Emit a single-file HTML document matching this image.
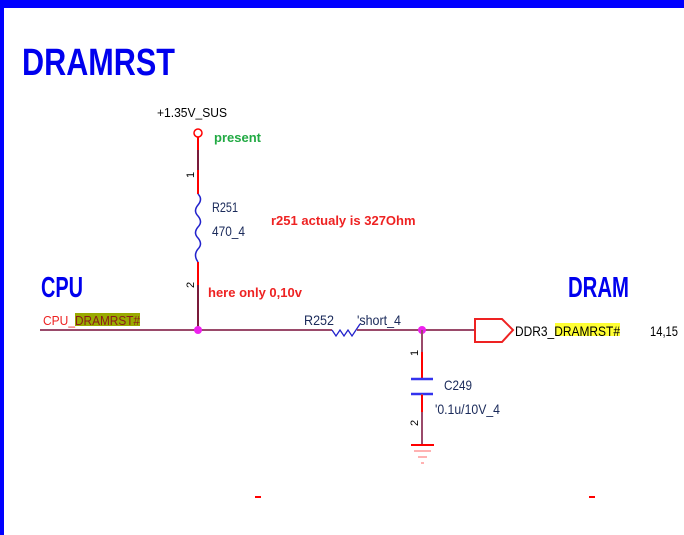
<!DOCTYPE html>
<html><head><style>
html,body{margin:0;padding:0;background:#fff}
svg{display:block}
text{font-family:"Liberation Sans",sans-serif}
</style></head><body>
<svg width="684" height="535" viewBox="0 0 684 535" xmlns="http://www.w3.org/2000/svg">
<rect x="0" y="0" width="684" height="535" fill="#fff"/>
<rect x="0" y="0" width="684" height="8" fill="#0000ff"/>
<rect x="0" y="0" width="4" height="535" fill="#0000ff"/>
<text x="22" y="75" font-size="38" font-weight="bold" fill="#0000ee" textLength="153" lengthAdjust="spacingAndGlyphs">DRAMRST</text>
<text x="157" y="117" font-size="13" fill="#000" textLength="70" lengthAdjust="spacingAndGlyphs">+1.35V_SUS</text>
<circle cx="198" cy="133" r="4" fill="none" stroke="#f00" stroke-width="1.5"/>
<line x1="198" y1="137" x2="198" y2="330" stroke="#7a1a3a" stroke-width="2"/>
<line x1="198" y1="137" x2="198" y2="150" stroke="#f00" stroke-width="2"/>
<line x1="198" y1="170" x2="198" y2="194" stroke="#f00" stroke-width="2"/>
<line x1="198" y1="262" x2="198" y2="285" stroke="#f00" stroke-width="2"/>
<rect x="194" y="194" width="8" height="68" fill="#fff"/>
<path d="M198 194 q5 5 0 11 q-5 6 0 11 q5 6 0 11 q-5 6 0 11 q5 6 0 11 q-5 6 0 13" fill="none" stroke="#2222cc" stroke-width="1.5"/>
<text x="194" y="178" font-size="11" fill="#000" transform="rotate(-90 194 178)">1</text>
<text x="194" y="288" font-size="11" fill="#000" transform="rotate(-90 194 288)">2</text>
<text x="214" y="142" font-size="13" font-weight="bold" fill="#22aa44">present</text>
<text x="212" y="212" font-size="14" fill="#1a2a5a" textLength="26" lengthAdjust="spacingAndGlyphs">R251</text>
<text x="212" y="236" font-size="14" fill="#1a2a5a" textLength="33" lengthAdjust="spacingAndGlyphs">470_4</text>
<text x="271" y="225" font-size="13" font-weight="bold" fill="#ee2222">r251 actualy is 327Ohm</text>
<text x="208" y="297" font-size="13" font-weight="bold" fill="#ee2222">here only 0,10v</text>
<text x="41" y="297" font-size="29" font-weight="bold" fill="#0000ee" textLength="42" lengthAdjust="spacingAndGlyphs">CPU</text>
<text x="568" y="297" font-size="29" font-weight="bold" fill="#0000ee" textLength="61" lengthAdjust="spacingAndGlyphs">DRAM</text>
<rect x="75" y="313" width="65" height="13" fill="#99aa00"/>
<text x="43" y="325" font-size="13" fill="#ee2222" textLength="32" lengthAdjust="spacingAndGlyphs">CPU_</text>
<text x="75" y="325" font-size="13" fill="#8b1a1a" textLength="65" lengthAdjust="spacingAndGlyphs">DRAMRST#</text>
<line x1="40" y1="330" x2="332" y2="330" stroke="#9a4a6a" stroke-width="2"/>
<path d="M332 330 l4 6 l4 -6 l4 6 l4 -6 l4 6 l4 -6 l4 -6" fill="none" stroke="#2222cc" stroke-width="1.3"/>
<line x1="357" y1="330" x2="475" y2="330" stroke="#9a4a6a" stroke-width="2"/>
<text x="304" y="325" font-size="14" fill="#1a2a5a" textLength="30" lengthAdjust="spacingAndGlyphs">R252</text>
<text x="357" y="325" font-size="14" fill="#1a2a5a" textLength="44" lengthAdjust="spacingAndGlyphs">'short_4</text>
<circle cx="198" cy="330" r="4" fill="#ee22ee"/>
<circle cx="422" cy="330" r="4" fill="#ee22ee"/>
<line x1="422" y1="330" x2="422" y2="380" stroke="#9a4a6a" stroke-width="2"/>
<line x1="422" y1="352" x2="422" y2="378" stroke="#f00" stroke-width="2"/>
<line x1="411" y1="379" x2="433" y2="379" stroke="#3333ee" stroke-width="2.5"/>
<line x1="411" y1="394" x2="433" y2="394" stroke="#3333ee" stroke-width="2.5"/>
<line x1="422" y1="394" x2="422" y2="445" stroke="#9a4a6a" stroke-width="2"/>
<line x1="422" y1="395" x2="422" y2="412" stroke="#f00" stroke-width="2"/>
<line x1="411" y1="445" x2="434" y2="445" stroke="#f00" stroke-width="2"/>
<line x1="414" y1="451" x2="431" y2="451" stroke="#ff6666" stroke-width="1"/>
<line x1="418" y1="457" x2="427" y2="457" stroke="#ff6666" stroke-width="1"/>
<line x1="421" y1="463" x2="424" y2="463" stroke="#ff6666" stroke-width="1"/>
<text x="418" y="356" font-size="11" fill="#000" transform="rotate(-90 418 356)">1</text>
<text x="418" y="426" font-size="11" fill="#000" transform="rotate(-90 418 426)">2</text>
<text x="444" y="390" font-size="14" fill="#1a2a5a" textLength="28" lengthAdjust="spacingAndGlyphs">C249</text>
<text x="435" y="414" font-size="14" fill="#1a2a5a" textLength="65" lengthAdjust="spacingAndGlyphs">'0.1u/10V_4</text>
<path d="M475 319 L502 319 L513 330 L502 342 L475 342 Z" fill="none" stroke="#ee2222" stroke-width="2"/>
<rect x="555" y="323" width="65" height="13" fill="#ffff33"/>
<text x="515" y="336" font-size="14" fill="#000" textLength="105" lengthAdjust="spacingAndGlyphs">DDR3_DRAMRST#</text>
<text x="650" y="336" font-size="14" fill="#000" textLength="28" lengthAdjust="spacingAndGlyphs">14,15</text>
<rect x="255" y="496" width="6" height="2" fill="#f00"/>
<rect x="589" y="496" width="6" height="2" fill="#f00"/>
</svg>
</body></html>
